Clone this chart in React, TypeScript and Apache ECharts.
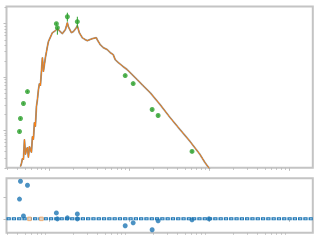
import React, { useEffect, useRef } from "react";
import * as echarts from "echarts";

// model curve
const modelX = [0.434, 0.447, 0.46, 0.473, 0.487, 0.501, 0.516, 0.531, 0.546, 0.562, 0.579, 0.596, 0.613, 0.631, 0.649, 0.668, 0.688, 0.708, 0.729, 0.75, 0.772, 0.818, 0.841, 0.891, 0.944, 0.972, 1.09, 1.189, 1.259, 1.372, 1.454, 1.585, 1.679, 1.728, 1.884, 1.995, 2.175, 2.239, 2.371, 2.584, 2.818, 2.985, 3.45, 3.87, 3.98, 4.34, 4.73, 5.31, 5.8, 6.31, 6.68, 7.3, 8.41, 9.44, 10.9, 12.6, 14.9, 18.3, 24.4, 32.5, 43.4, 57.9, 77.1, 88.9, 102.7];
const modelY = [0.212, 0.242, 0.3, 0.287, 0.679, 0.356, 0.442, 0.481, 0.313, 0.502, 0.442, 0.388, 0.772, 0.679, 1.41, 1.19, 2.81, 3.8, 5.84, 7.56, 6.94, 23.1, 12.7, 23.1, 37.2, 46.1, 67.9, 74.0, 80.7, 70.8, 65.0, 77.3, 104.5, 87.9, 67.9, 70.8, 84.2, 91.8, 67.9, 54.7, 50.2, 48.1, 52.4, 54.7, 50.2, 40.5, 35.6, 32.7, 28.7, 26.3, 21.2, 18.7, 15.7, 13.8, 11.1, 8.98, 6.94, 5.13, 3.06, 1.75, 1.04, 0.623, 0.356, 0.252, 0.187];

// observed points
const obsX = [0.422, 0.434, 0.473, 0.531, 1.223, 1.259, 1.679, 2.239, 8.91, 11.22, 19.39, 23.04, 61.3];
const obsY = [0.958, 1.675, 3.2, 5.36, 100, 84.2, 135, 109, 10.67, 7.56, 2.47, 1.91, 0.405];
const obsLo = [0.92, 1.61, 3.08, 5.16, 96, 62.3, 109, 84, 10.25, 7.26, 2.37, 1.83, 0.385];
const obsHi = [1.0, 1.74, 3.33, 5.57, 104, 87.9, 160.6, 135, 11.1, 7.87, 2.57, 1.99, 0.425];

// residuals
const resX = [0.422, 0.434, 0.473, 0.531, 1.223, 1.259, 1.679, 2.239, 2.239, 8.91, 11.22, 19.39, 23.04, 61.3, 100];
const resY = [0.909, 1.727, 0.136, 1.545, 0.273, 0.0, 0.045, 0.227, 0.0, -0.318, -0.182, -0.5, -0.091, -0.045, 0.0];
const limX = [0.562, 0.794];
const limY = [0, 0];

// ticks
const xMajor = [1, 10, 100, 1000];
const xMinor = [0.3, 0.4, 0.5, 0.6, 0.7, 0.8, 0.9, 2, 3, 4, 5, 6, 7, 8, 9, 20, 30, 40, 50, 60, 70, 80, 90, 200, 300, 400, 500, 600, 700, 800, 900];
const yMajor = [1, 10, 100];
const yMinor = [0.2, 0.3, 0.4, 0.5, 0.6, 0.7, 0.8, 0.9, 2, 3, 4, 5, 6, 7, 8, 9, 20, 30, 40, 50, 60, 70, 80, 90, 200];
const rMajor = [0, 1];

const X_MIN = 0.29, X_MAX = 2000, Y_MIN = 0.2, Y_MAX = 210, R_MIN = -0.636, R_MAX = 1.864;

export default function App() {
  const ref = useRef<HTMLDivElement>(null);
  useEffect(() => {
    if (!ref.current) return;
    const chart = echarts.init(ref.current, null, { renderer: "svg" });
    const tickColor = "#bdbdbd";
    const logX = (grid: number, ticks: number[], len: number) => ({
      type: "log", gridIndex: grid, position: "bottom", min: X_MIN, max: X_MAX, logBase: 10,
      axisLine: { show: false }, splitLine: { show: false }, axisLabel: { show: false },
      axisTick: { show: true, inside: false, length: len, customValues: ticks, lineStyle: { color: tickColor, width: 1 } },
    });
    const logY = (ticks: number[], len: number) => ({
      type: "log", gridIndex: 0, position: "left", min: Y_MIN, max: Y_MAX, logBase: 10,
      axisLine: { show: false }, splitLine: { show: false }, axisLabel: { show: false },
      axisTick: { show: true, inside: false, length: len, customValues: ticks, lineStyle: { color: tickColor, width: 1 } },
    });
    const model = modelX.map((x, i) => [x, modelY[i]]);
    const zero = [[X_MIN, 0], [X_MAX, 0]];
    chart.setOption({
      animation: false,
      grid: [
        { left: 6.5, top: 6.5, width: 306.3, height: 161.3, show: true, borderColor: "#c4c4c4", borderWidth: 2 },
        { left: 6.5, top: 178.3, width: 306.3, height: 54.4, show: true, borderColor: "#c4c4c4", borderWidth: 2 },
      ],
      xAxis: [logX(0, xMajor, 3), logX(0, xMinor, 2), logX(1, xMajor, 3), logX(1, xMinor, 2)],
      yAxis: [
        logY(yMajor, 3), logY(yMinor, 2),
        {
          type: "value", gridIndex: 1, position: "left", min: R_MIN, max: R_MAX,
          axisLine: { show: false }, splitLine: { show: false }, axisLabel: { show: false },
          axisTick: { show: true, inside: false, length: 3, customValues: rMajor, lineStyle: { color: tickColor, width: 1 } },
        },
      ],
      series: [
        { type: "line", xAxisIndex: 0, yAxisIndex: 0, data: model, symbol: "none", lineStyle: { color: "#b0b0b0", width: 1.9 }, z: 1 },
        { type: "line", xAxisIndex: 0, yAxisIndex: 0, data: model, symbol: "none", lineStyle: { color: "#1f77b4", width: 0.8 }, z: 2 },
        { type: "line", xAxisIndex: 0, yAxisIndex: 0, data: model, symbol: "none", lineStyle: { color: "#ff7f0e", width: 1 }, z: 3 },
        {
          type: "custom", xAxisIndex: 0, yAxisIndex: 0, z: 4,
          data: obsX.map((x, i) => [x, obsLo[i], obsHi[i]]),
          encode: { x: 0, y: [1, 2] },
          renderItem: (params: any, api: any) => {
            const p1 = api.coord([api.value(0), api.value(1)]);
            const p2 = api.coord([api.value(0), api.value(2)]);
            return { type: "line", shape: { x1: p1[0], y1: p1[1], x2: p2[0], y2: p2[1] }, style: { stroke: "#2ca02c", lineWidth: 1 } };
          },
        },
        {
          type: "scatter", xAxisIndex: 0, yAxisIndex: 0, z: 5,
          data: obsX.map((x, i) => [x, obsY[i]]), symbol: "circle", symbolSize: 5,
          itemStyle: { color: "#2ca02c" },
        },
        {
          type: "line", xAxisIndex: 2, yAxisIndex: 2, data: zero, symbol: "none", z: 2,
          lineStyle: { color: "#1f77b4", width: 3, type: [4.3, 1] },
        },
        {
          type: "line", xAxisIndex: 2, yAxisIndex: 2, data: zero, symbol: "none", z: 3,
          lineStyle: { color: "#a9cbe8", width: 1.1, type: [1.9, 3.4], dashOffset: 4.1 },
        },
        {
          type: "scatter", xAxisIndex: 2, yAxisIndex: 2, z: 4,
          data: limX.map((x, i) => [x, limY[i]]), symbol: "rect", symbolSize: 3.5,
          itemStyle: { color: "#fde3cc", borderColor: "#f5a661", borderWidth: 1 },
        },
        {
          type: "scatter", xAxisIndex: 2, yAxisIndex: 2, z: 5,
          data: resX.map((x, i) => [x, resY[i]]), symbol: "circle", symbolSize: 5,
          itemStyle: { color: "#1f77b4" },
        },
      ],
    });
    return () => chart.dispose();
  }, []);
  return <div ref={ref} style={{ position: "fixed", left: 0, top: 0, width: 320, height: 240 }} />;
}
